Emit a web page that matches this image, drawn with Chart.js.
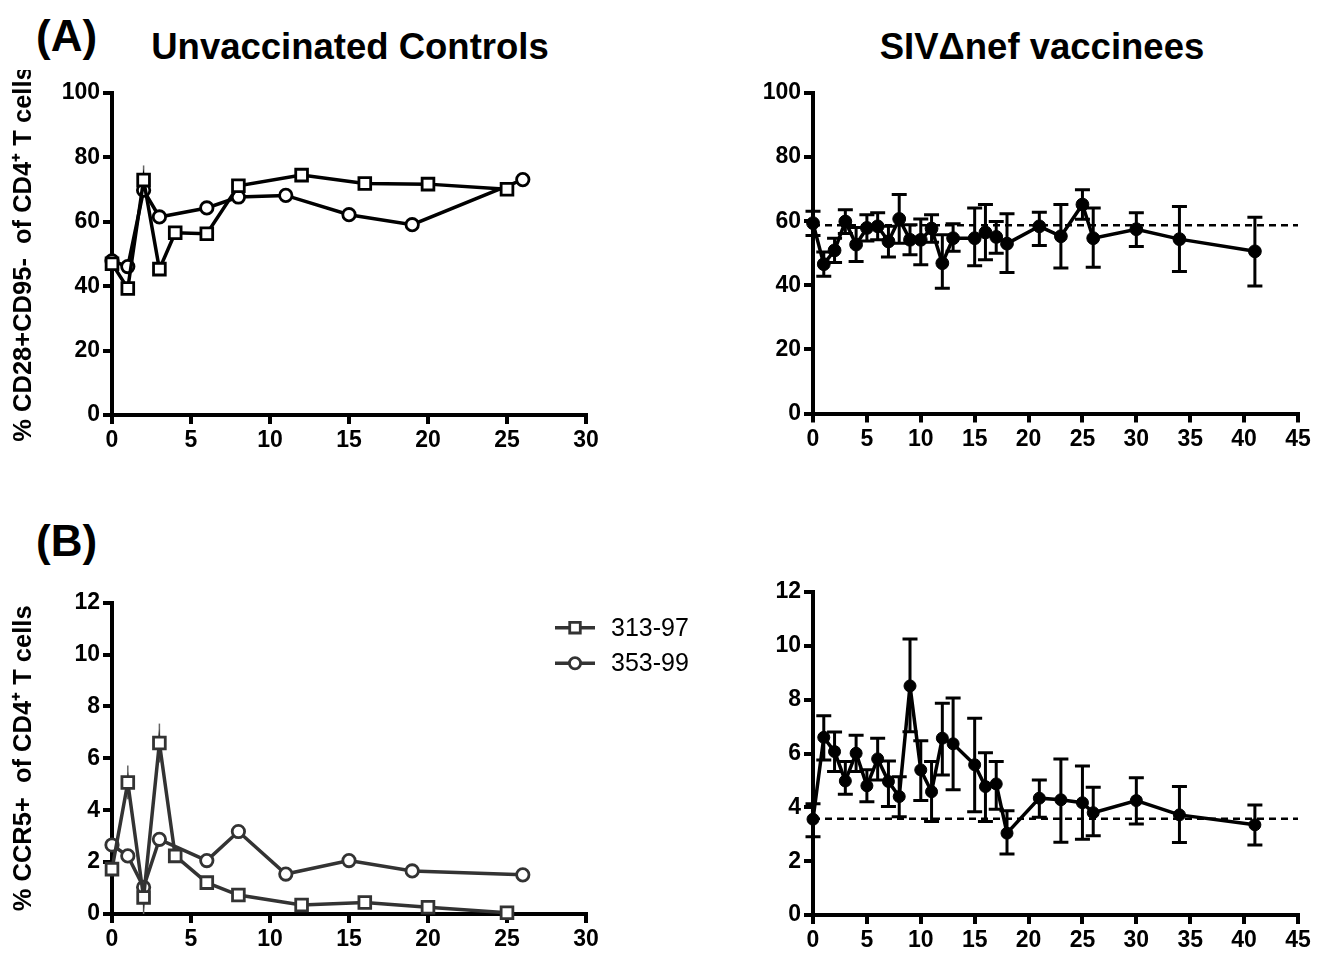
<!DOCTYPE html>
<html><head><meta charset="utf-8">
<script src="https://cdn.jsdelivr.net/npm/chart.js@4.4.1/dist/chart.umd.min.js"></script>
<style>
html,body{margin:0;padding:0;background:#fff;}
body{width:1329px;height:959px;position:relative;overflow:hidden;font-family:'Liberation Sans',Arial,Helvetica,sans-serif;}
.cv{position:absolute;display:block;}
.hd{position:absolute;font-weight:bold;color:#000;line-height:1;white-space:nowrap;}
</style></head><body>
<div class="hd" style="left:36px;top:14px;font-size:44px;">(A)</div>
<div class="hd" style="left:50px;width:600px;text-align:center;top:29px;font-size:36.5px;">Unvaccinated Controls</div>
<div class="hd" style="left:742px;width:600px;text-align:center;top:29px;font-size:36.5px;">SIVΔnef vaccinees</div>
<div class="hd" style="left:36px;top:519px;font-size:44px;">(B)</div>
<canvas id="tl" class="cv" width="630" height="410" style="left:0;top:70px;"></canvas>
<canvas id="tr" class="cv" width="629" height="410" style="left:700px;top:70px;"></canvas>
<canvas id="bl" class="cv" width="700" height="389" style="left:0;top:570px;"></canvas>
<canvas id="br" class="cv" width="629" height="389" style="left:700px;top:570px;"></canvas>
<script>
// ---------------- DATA ----------------
const seriesLabels = ['313-97', '353-99'];
const ctrlWeeks313 = [0, 1, 2, 3, 4, 6, 8, 12, 16, 20, 25];
const ctrlWeeks353 = [0, 1, 2, 3, 6, 8, 11, 15, 19, 26];
const cd28_313 = [47, 39.3, 73, 45.3, 56.6, 56.3, 71.2, 74.5, 71.9, 71.7, 70.1];
const cd28_313_sd = [0, 0, 4.5, 0, 0, 0, 0, 0, 0, 0, 0];
const cd28_353 = [47.9, 46.1, 69.8, 61.5, 64.3, 67.7, 68.2, 62.2, 59.1, 73.1];
const ccr5_313 = [1.73, 5.07, 0.64, 6.59, 2.24, 1.21, 0.73, 0.35, 0.44, 0.26, 0.05];
const ccr5_313_sd = [0, 0.65, 0.64, 0.75, 0, 0, 0, 0, 0, 0, 0];
const ccr5_353 = [2.66, 2.24, 1.03, 2.88, 2.06, 3.18, 1.54, 2.06, 1.66, 1.51];

const vacWeeks = [0, 1, 2, 3, 4, 5, 6, 7, 8, 9, 10, 11, 12, 13, 15, 16, 17, 18, 21, 23, 25, 26, 30, 34, 41];
const vacCd28Mean = [59.4, 46.6, 50.9, 59.9, 52.7, 57.9, 58.4, 53.7, 60.7, 54.2, 54.2, 57.7, 46.9, 54.7, 54.7, 56.5, 55.1, 53.0, 58.4, 55.3, 65.2, 54.7, 57.5, 54.4, 50.6];
const vacCd28Hi = [63.1, 50.4, 54.7, 63.6, 58.0, 62.0, 62.6, 58.4, 68.3, 58.9, 60.7, 62.0, 55.8, 59.2, 64.1, 65.2, 59.9, 62.3, 62.8, 65.2, 69.8, 64.1, 62.6, 64.6, 61.2];
const vacCd28Lo = [55.5, 42.8, 47.1, 56.2, 47.4, 53.8, 54.2, 48.8, 53.1, 49.5, 46.4, 53.4, 39.1, 50.6, 46.1, 48.0, 50.0, 44.0, 52.4, 45.4, 60.6, 45.6, 52.1, 44.3, 39.8];
const vacCd28Baseline = 58.7;
const vacCcr5Mean = [3.56, 6.6, 6.07, 4.98, 6.01, 4.8, 5.8, 4.96, 4.4, 8.51, 5.39, 4.58, 6.57, 6.36, 5.58, 4.77, 4.87, 3.04, 4.34, 4.28, 4.17, 3.8, 4.25, 3.72, 3.35];
const vacCcr5Hi = [4.13, 7.4, 6.8, 5.7, 6.68, 5.4, 6.57, 5.72, 5.14, 10.25, 6.47, 5.7, 7.87, 8.06, 7.31, 6.03, 5.7, 3.87, 5.02, 5.8, 5.54, 4.75, 5.1, 4.77, 4.09];
const vacCcr5Lo = [2.91, 5.76, 5.33, 4.49, 5.33, 4.21, 5.02, 4.03, 3.65, 6.81, 4.25, 3.47, 5.2, 4.65, 3.84, 3.47, 3.93, 2.27, 3.63, 2.7, 2.81, 2.94, 3.38, 2.69, 2.6];
const vacCcr5Baseline = 3.58;

const ctrlXTicks = [0, 5, 10, 15, 20, 25, 30];
const vacXTicks = [0, 5, 10, 15, 20, 25, 30, 35, 40, 45];
const cd28YTicks = [0, 20, 40, 60, 80, 100];
const ccr5YTicks = [0, 2, 4, 6, 8, 10, 12];
const cd28Title = '% CD28+CD95-  of CD4\u207A T cells';
const ccr5Title = '% CCR5+  of CD4\u207A T cells';

// ---------------- HELPERS ----------------
const FONT = "'Liberation Sans', Arial, Helvetica, sans-serif";

const errorBarPlugin = {
  id: 'errorBars',
  beforeDatasetsDraw(chart) {
    const ctx = chart.ctx, ys = chart.scales.y;
    chart.data.datasets.forEach((ds, i) => {
      if (!ds.errHi) return;
      const meta = chart.getDatasetMeta(i);
      const o = ds.errStyle;
      ctx.save();
      ctx.strokeStyle = o.color; ctx.lineWidth = o.width; ctx.lineCap = 'butt';
      meta.data.forEach((pt, j) => {
        const hi = ds.errHi[j], lo = ds.errLo[j];
        if (hi == null || lo == null) return;
        const x = pt.x, yh = ys.getPixelForValue(hi), yl = ys.getPixelForValue(lo);
        ctx.beginPath();
        ctx.moveTo(x, yh); ctx.lineTo(x, yl);
        if (o.cap) {
          ctx.moveTo(x - o.cap, yh); ctx.lineTo(x + o.cap, yh);
          ctx.moveTo(x - o.cap, yl); ctx.lineTo(x + o.cap, yl);
        }
        ctx.stroke();
      });
      ctx.restore();
    });
  }
};

const insideLegendPlugin = {
  id: 'insideLegend',
  afterDatasetsDraw(chart, args, opts) {
    if (!opts || !opts.display) return;
    const ctx = chart.ctx;
    chart.data.datasets.forEach((ds, i) => {
      const y = opts.y + i * opts.rowGap;
      const cx = opts.x + opts.lineLen / 2;
      ctx.save();
      ctx.strokeStyle = ds.borderColor; ctx.lineWidth = ds.borderWidth;
      ctx.beginPath(); ctx.moveTo(opts.x, y); ctx.lineTo(opts.x + opts.lineLen, y); ctx.stroke();
      ctx.fillStyle = ds.pointBackgroundColor; ctx.strokeStyle = ds.pointBorderColor; ctx.lineWidth = ds.pointBorderWidth;
      ctx.beginPath();
      const r = ds.pointRadius * opts.markerScale;
      if (ds.pointStyle === 'rect') { const s = Math.SQRT1_2 * r; ctx.rect(cx - s, y - s, 2 * s, 2 * s); }
      else { ctx.arc(cx, y, r, 0, Math.PI * 2); }
      ctx.fill(); ctx.stroke();
      ctx.fillStyle = '#000'; ctx.font = opts.font; ctx.textBaseline = 'middle'; ctx.textAlign = 'left';
      ctx.fillText(ds.label, opts.x + opts.lineLen + opts.textGap, y + 1);
      ctx.restore();
    });
  }
};

function scaleCfg(ticksArr, min, max, fit, title) {
  const c = {
    type: 'linear', min, max,
    afterBuildTicks: s => { s.ticks = ticksArr.map(v => ({ value: v })); },
    afterFit: fit,
    grid: { display: true, drawOnChartArea: false, drawTicks: true, tickLength: 9, lineWidth: 4, color: '#000' },
    border: { display: true, color: '#000', width: 4 },
    ticks: { color: '#000', font: { family: FONT, size: 23, weight: 'bold' }, padding: 3, autoSkip: false, maxRotation: 0 }
  };
  if (title) c.title = { display: true, text: title, color: '#000', font: { family: FONT, size: 25.5, weight: 'bold' }, padding: { top: 9, bottom: 0 } };
  return c;
}

function pts(xs, ys) { return xs.map((x, i) => ({ x, y: ys[i] })); }
function sdHi(ys, sd) { return ys.map((v, i) => sd[i] ? v + sd[i] : null); }
function sdLo(ys, sd) { return ys.map((v, i) => sd[i] ? Math.max(0, v - sd[i]) : null); }

function ctrlDatasets(y313, sd313, y353, col) {
  return [
    { label: seriesLabels[0], data: pts(ctrlWeeks313, y313), borderColor: col, borderWidth: 3.5,
      pointStyle: 'rect', pointRadius: 8.3, pointBorderWidth: 2.8, pointBackgroundColor: '#fff', pointBorderColor: col,
      tension: 0, clip: false, errHi: sdHi(y313, sd313), errLo: sdLo(y313, sd313), errStyle: { color: '#666', width: 1.5, cap: 0 } },
    { label: seriesLabels[1], data: pts(ctrlWeeks353, y353), borderColor: col, borderWidth: 3.5,
      pointStyle: 'circle', pointRadius: 6.2, pointBorderWidth: 2.8, pointBackgroundColor: '#fff', pointBorderColor: col,
      tension: 0, clip: false }
  ];
}

function vacDatasets(mean, hi, lo, base, r) {
  return [
    { label: 'mean', data: pts(vacWeeks, mean), borderColor: '#000', borderWidth: 3.5,
      pointStyle: 'circle', pointRadius: r, pointBorderWidth: 1, pointBackgroundColor: '#000', pointBorderColor: '#000',
      tension: 0, clip: false, errHi: hi, errLo: lo, errStyle: { color: '#000', width: 3, cap: 7.5 } },
    { label: 'baseline', data: [{ x: vacXTicks[0], y: base }, { x: vacXTicks[vacXTicks.length - 1], y: base }],
      borderColor: '#000', borderWidth: 2.5, borderDash: [7, 5], pointRadius: 0, tension: 0, clip: false }
  ];
}

function makeChart(id, datasets, xTicks, yTicks, yWidth, xHeight, pad, yTitle, legend) {
  return new Chart(document.getElementById(id), {
    type: 'line',
    data: { datasets },
    options: {
      responsive: false, animation: false, devicePixelRatio: 1,
      layout: { padding: pad },
      scales: {
        x: scaleCfg(xTicks, xTicks[0], xTicks[xTicks.length - 1], s => { s.height = xHeight; }),
        y: scaleCfg(yTicks, yTicks[0], yTicks[yTicks.length - 1], s => { s.width = yWidth; }, yTitle)
      },
      plugins: {
        legend: { display: false }, tooltip: { enabled: false },
        insideLegend: legend || { display: false }
      },
      events: []
    },
    plugins: [errorBarPlugin, insideLegendPlugin]
  });
}

makeChart('tl', ctrlDatasets(cd28_313, cd28_313_sd, cd28_353, '#000'), ctrlXTicks, cd28YTicks, 112, 65,
  { left: 0, top: 23, right: 44, bottom: 0 }, cd28Title);
makeChart('tr', vacDatasets(vacCd28Mean, vacCd28Hi, vacCd28Lo, vacCd28Baseline, 6.4), vacXTicks, cd28YTicks, 113, 66.5,
  { left: 0, top: 23, right: 31, bottom: 0 });
makeChart('bl', ctrlDatasets(ccr5_313, ccr5_313_sd, ccr5_353, '#333'), ctrlXTicks, ccr5YTicks, 112, 45,
  { left: 0, top: 32.7, right: 114, bottom: 0 }, ccr5Title,
  { display: true, x: 555, y: 57.7, rowGap: 35.6, lineLen: 40, textGap: 16, markerScale: 0.9, font: "25px " + FONT });
makeChart('br', vacDatasets(vacCcr5Mean, vacCcr5Hi, vacCcr5Lo, vacCcr5Baseline, 6), vacXTicks, ccr5YTicks, 113, 44,
  { left: 0, top: 22, right: 31, bottom: 0 });
</script>
</body></html>
